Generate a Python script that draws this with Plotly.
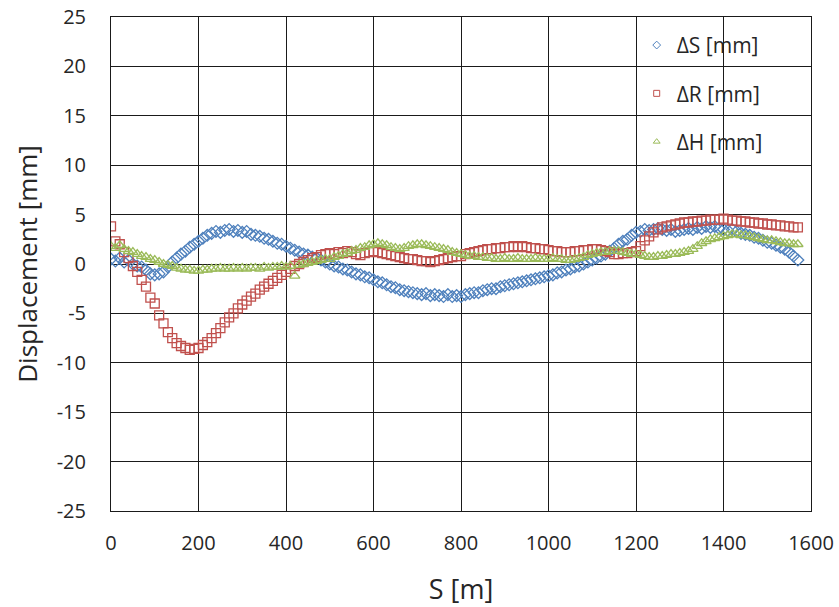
import plotly.graph_objects as go

S_POS = list(range(0, 1580, 10))

DS = [0.5, 0.3, 0.6, 0.2, 0.4, 0.0, -0.2, -0.3, -0.6, -1.0,
      -1.1, -1.0, -0.8, -0.3, 0.2, 0.6, 1.0, 1.3, 1.7, 2.0,
      2.3, 2.6, 2.9, 3.1, 3.3, 3.2, 3.4, 3.5, 3.3, 3.4,
      3.2, 3.3, 3.0, 2.9, 2.8, 2.6, 2.5, 2.3, 2.1, 2.0,
      1.8, 1.6, 1.4, 1.2, 1.0, 0.9, 0.7, 0.6, 0.4, 0.2,
      0.0, -0.2, -0.3, -0.5, -0.6, -0.8, -1.0, -1.1, -1.3, -1.4,
      -1.6, -1.8, -1.9, -2.1, -2.3, -2.4, -2.6, -2.7, -2.8, -2.9,
      -3.0, -3.1, -3.0, -3.2, -3.1, -3.2, -3.3, -3.1, -3.3, -3.2,
      -3.3, -3.1, -3.0, -2.9, -2.9, -2.7, -2.6, -2.5, -2.5, -2.3,
      -2.2, -2.1, -2.0, -1.9, -1.8, -1.7, -1.6, -1.5, -1.4, -1.3,
      -1.2, -1.1, -0.9, -0.8, -0.6, -0.5, -0.3, -0.2, 0.0, 0.2,
      0.4, 0.6, 0.8, 1.0, 1.3, 1.6, 2.0, 2.3, 2.5, 2.9,
      3.2, 3.3, 3.5, 3.4, 3.5, 3.6, 3.5, 3.4, 3.5, 3.3,
      3.4, 3.5, 3.6, 3.5, 3.7, 3.6, 3.8, 3.7, 3.8, 3.6,
      3.5, 3.4, 3.5, 3.3, 3.1, 3.0, 2.9, 2.7, 2.6, 2.4,
      2.2, 2.1, 1.9, 1.7, 1.5, 1.2, 0.8, 0.4]

DR = [3.8, 2.3, 2.0, 1.2, 0.6, -0.2, -0.8, -1.6, -2.3, -3.4,
      -4.0, -5.2, -6.0, -6.9, -7.5, -8.0, -8.3, -8.5, -8.7, -8.6,
      -8.5, -8.2, -7.9, -7.5, -7.0, -6.5, -5.9, -5.4, -5.0, -4.5,
      -4.1, -3.7, -3.3, -3.0, -2.6, -2.3, -2.0, -1.7, -1.4, -1.1,
      -0.8, -0.5, -0.2, 0.0, 0.2, 0.4, 0.6, 0.7, 0.9, 1.0,
      1.1, 1.0, 1.2, 1.1, 1.3, 1.2, 1.0, 0.9, 1.1, 1.2,
      1.3, 1.2, 1.1, 1.0, 0.9, 0.8, 0.7, 0.6, 0.5, 0.5,
      0.4, 0.3, 0.3, 0.2, 0.3, 0.4, 0.5, 0.6, 0.7, 0.8,
      0.8, 1.0, 1.1, 1.2, 1.3, 1.4, 1.5, 1.5, 1.6, 1.6,
      1.7, 1.7, 1.8, 1.7, 1.8, 1.7, 1.6, 1.6, 1.5, 1.5,
      1.4, 1.3, 1.3, 1.2, 1.2, 1.2, 1.3, 1.3, 1.4, 1.4,
      1.5, 1.5, 1.4, 1.3, 1.2, 1.0, 1.0, 1.1, 1.1, 1.2,
      1.3, 1.8, 2.4, 2.8, 3.2, 3.5, 3.7, 3.8, 3.9, 4.0,
      4.1, 4.2, 4.2, 4.3, 4.3, 4.4, 4.4, 4.5, 4.5, 4.5,
      4.6, 4.5, 4.4, 4.4, 4.3, 4.3, 4.2, 4.2, 4.1, 4.1,
      4.0, 4.0, 3.9, 3.9, 3.8, 3.8, 3.7, 3.7]

DH = [1.8, 1.6, 1.9, 1.5, 1.3, 1.2, 1.0, 0.8, 0.7, 0.5,
      0.4, 0.2, 0.0, -0.1, -0.2, -0.4, -0.5, -0.6, -0.6, -0.7,
      -0.7, -0.6, -0.6, -0.5, -0.5, -0.4, -0.5, -0.5, -0.4, -0.5,
      -0.4, -0.5, -0.4, -0.4, -0.5, -0.3, -0.4, -0.3, -0.3, -0.2,
      -0.3, -0.2, -1.2, -0.1, 0.0, 0.1, 0.2, 0.3, 0.4, 0.5,
      0.5, 0.7, 0.8, 1.0, 1.1, 1.3, 1.4, 1.6, 1.7, 1.9,
      2.0, 2.1, 2.0, 1.9, 1.7, 1.6, 1.5, 1.6, 1.8, 1.9,
      2.0, 2.0, 1.9, 1.8, 1.7, 1.6, 1.5, 1.4, 1.2, 1.1,
      1.0, 0.9, 0.8, 0.8, 0.7, 0.7, 0.6, 0.6, 0.5, 0.5,
      0.6, 0.5, 0.5, 0.6, 0.5, 0.5, 0.5, 0.6, 0.5, 0.5,
      0.5, 0.6, 0.5, 0.5, 0.4, 0.4, 0.5, 0.6, 0.7, 0.9,
      1.0, 1.1, 1.2, 1.2, 1.3, 1.3, 1.3, 1.2, 1.1, 1.0,
      1.0, 0.9, 0.8, 0.7, 0.7, 0.8, 0.8, 0.9, 1.0, 1.0,
      1.1, 1.2, 1.3, 1.5, 1.8, 2.1, 2.3, 2.5, 2.6, 2.7,
      2.8, 2.9, 3.0, 3.0, 2.9, 2.9, 2.8, 2.7, 2.6, 2.5,
      2.4, 2.4, 2.3, 2.2, 2.1, 2.1, 2.0, 2.0]

X_TICKS = [0, 200, 400, 600, 800, 1000, 1200, 1400, 1600]
X_LABELS = ["0", "200", "400", "600", "800", "1000", "1200", "1400", "1600"]
Y_TICKS = [-25, -20, -15, -10, -5, 0, 5, 10, 15, 20, 25]
Y_LABELS = ["-25", "-20", "-15", "-10", "-5", "0", "5", "10", "15", "20", "25"]

FONT = "Open Sans"
TXT = "#262626"
GRID = "#1a1a1a"

fig = go.Figure()
series = [
    ("ΔS [mm]", DS, "diamond-open", "#4F81BD"),
    ("ΔR [mm]", DR, "square-open", "#C0504D"),
    ("ΔH [mm]", DH, "triangle-up-open", "#9BBB59"),
]
for i, (name, ys, sym, col) in enumerate(series):
    fig.add_trace(go.Scatter(
        x=S_POS, y=ys, mode="markers", name=name, legendgroup=str(i),
        showlegend=False,
        marker=dict(symbol=sym, size=9, color=col, line=dict(width=1.3, color=col)),
    ))
for i, (name, ys, sym, col) in enumerate(series):
    fig.add_trace(go.Scatter(
        x=[None], y=[None], mode="markers", name=name, legendgroup=str(i),
        showlegend=True,
        marker=dict(symbol=sym, size=6, color=col, line=dict(width=1, color=col)),
    ))

fig.update_layout(
    width=839, height=607,
    margin=dict(l=111, r=28, t=17, b=96),
    paper_bgcolor="white", plot_bgcolor="white",
    font=dict(family=FONT, color=TXT),
    showlegend=True,
    legend=dict(
        x=0.751, y=0.984, xanchor="left", yanchor="top",
        bgcolor="rgba(0,0,0,0)", font=dict(size=21, color=TXT, family=FONT),
        traceorder="grouped", tracegroupgap=18, itemsizing="trace",
    ),
)
fig.update_xaxes(
    range=[0, 1600], tickvals=X_TICKS, ticktext=X_LABELS, automargin=False,
    showgrid=True, gridcolor=GRID, gridwidth=1, ticklabeloverflow="allow",
    showline=True, linecolor=GRID, linewidth=1, mirror=True, zeroline=False,
    tickfont=dict(size=20, color=TXT), ticks="", ticklabelstandoff=14,
    title=dict(text="S [m]", font=dict(size=27, color=TXT), standoff=36),
)
fig.update_yaxes(
    range=[-25, 25], tickvals=Y_TICKS, ticktext=Y_LABELS, automargin=False,
    showgrid=True, gridcolor=GRID, gridwidth=1, ticklabeloverflow="allow",
    showline=True, linecolor=GRID, linewidth=1, mirror=True, zeroline=False,
    tickfont=dict(size=20, color=TXT), ticks="", ticklabelstandoff=20,
    title=dict(text="Displacement [mm]", font=dict(size=26, color=TXT), standoff=11),
)

# remove the page's default 8px body margin so the 839x607 figure fills the window
fig.write_html("out.html", config={"displayModeBar": False},
               post_script="document.body.style.margin='0';")
